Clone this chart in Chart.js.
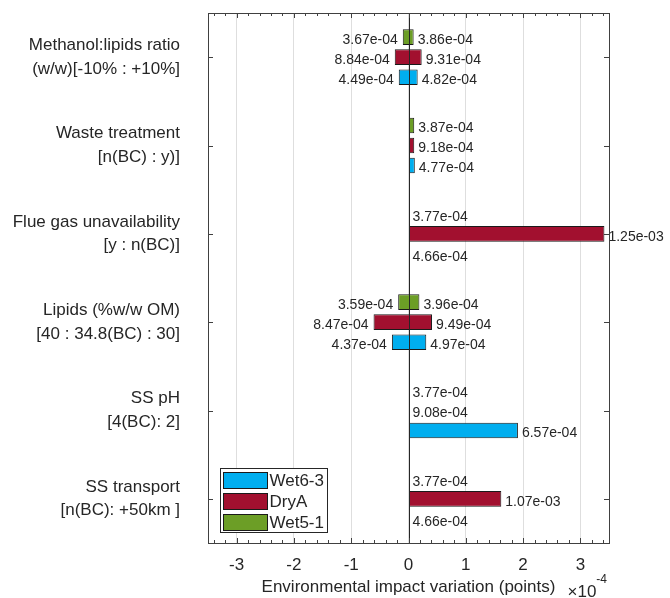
<!DOCTYPE html>
<html>
<head>
<meta charset="utf-8">
<script src="https://cdn.jsdelivr.net/npm/chart.js@4.4.1/dist/chart.umd.min.js"></script>
<style>
  html, body { margin: 0; padding: 0; background: #fff; }
</style>
</head>
<body>
<canvas id="tornado" width="670" height="598"></canvas>
<script>
// --- Data ---
const categories = [
    ['Methanol:lipids ratio', '(w/w)[-10% : +10%]'],
    ['Waste treatment', '[n(BC) : y)]'],
    ['Flue gas unavailability', '[y : n(BC)]'],
    ['Lipids (%w/w OM)', '[40 : 34.8(BC) : 30]'],
    ['SS pH', '[4(BC): 2]'],
    ['SS transport', '[n(BC): +50km ]']
];
const seriesNames = ['Wet5-1', 'DryA', 'Wet6-3'];
const baseline = [3.77e-4, 9.08e-4, 4.66e-4];   // reference impact per series

const wet51Low  = [3.67e-4, 3.77e-4, 3.77e-4, 3.59e-4, 3.77e-4, 3.77e-4];
const wet51High = [3.86e-4, 3.87e-4, 3.77e-4, 3.96e-4, 3.77e-4, 3.77e-4];
const dryALow   = [8.84e-4, 9.08e-4, 9.08e-4, 8.47e-4, 9.08e-4, 9.08e-4];
const dryAHigh  = [9.31e-4, 9.18e-4, 1.25e-3, 9.49e-4, 9.08e-4, 1.07e-3];
const wet63Low  = [4.49e-4, 4.66e-4, 4.66e-4, 4.37e-4, 4.66e-4, 4.66e-4];
const wet63High = [4.82e-4, 4.77e-4, 4.66e-4, 4.97e-4, 6.57e-4, 4.66e-4];

const xTicks = [-3, -2, -1, 0, 1, 2, 3];   // in x10^-4
const xMin = -3.5;
const xMax = 3.5;

// --- Styles ---
const FONT = '"Liberation Sans", Arial, Helvetica, sans-serif';
const TEXT = '#262626';
const AXIS = '#404040';
const seriesColors = ['#6c9e26', '#a2102f', '#00aeef'];

const lowSeries = [wet51Low, dryALow, wet63Low];
const highSeries = [wet51High, dryAHigh, wet63High];
const SCALE = 1e4; // axis shown in x10^-4

function fmt(v) {
    return v.toExponential(2).replace(/e([+-])(\d)$/, (m, s, d) => 'e' + s + '0' + d);
}
function same(a, b) { return Math.abs(a - b) < 1e-12; }

const datasets = seriesNames.map((name, i) => ({
    label: name,
    data: categories.map((_, j) => [
        (lowSeries[i][j] - baseline[i]) * SCALE,
        (highSeries[i][j] - baseline[i]) * SCALE
    ]),
    backgroundColor: seriesColors[i],
    borderColor: '#1a1a1a',
    borderWidth: ctx => (ctx.raw && same(ctx.raw[0], ctx.raw[1])) ? 0 : 1,
    borderSkipped: false,
    categoryPercentage: 0.68,
    barPercentage: 0.78
}));

function noPad(s) {
    s.paddingTop = 0; s.paddingBottom = 0;
    s.paddingLeft = 0; s.paddingRight = 0;
}

// --- Decorations: value labels, zero line, frame, ticks, legend ---
const decor = {
    id: 'decor',
    afterDatasetsDraw(chart) {
        const { ctx, chartArea: ca, scales: { x: xs } } = chart;
        const x0 = xs.getPixelForValue(0);
        ctx.save();
        ctx.strokeStyle = '#262626';
        ctx.lineWidth = 1;
        ctx.beginPath();
        ctx.moveTo(Math.round(x0) + 0.5, ca.top);
        ctx.lineTo(Math.round(x0) + 0.5, ca.bottom);
        ctx.stroke();

        ctx.font = '14px ' + FONT;
        ctx.fillStyle = TEXT;
        ctx.textBaseline = 'middle';
        seriesNames.forEach((_, i) => {
            const meta = chart.getDatasetMeta(i);
            categories.forEach((_, j) => {
                const lo = lowSeries[i][j], hi = highSeries[i][j], b = baseline[i];
                const y = meta.data[j].y + 3;
                if (same(lo, b) && same(hi, b)) {
                    ctx.textAlign = 'left';
                    ctx.fillText(fmt(b), x0 + 4, y);
                    return;
                }
                if (!same(lo, b)) {
                    ctx.textAlign = 'right';
                    ctx.fillText(fmt(lo), xs.getPixelForValue((lo - b) * SCALE) - 5, y);
                }
                if (!same(hi, b)) {
                    ctx.textAlign = 'left';
                    ctx.fillText(fmt(hi), xs.getPixelForValue((hi - b) * SCALE) + 4, y);
                }
            });
        });
        ctx.restore();
    },
    afterDraw(chart) {
        const { ctx, chartArea: ca, scales: { x: xs, y: ys } } = chart;
        ctx.save();
        ctx.strokeStyle = AXIS;
        ctx.lineWidth = 1;

        // x ticks (major + minor), inward on top and bottom
        ctx.beginPath();
        for (let k = -17; k <= 17; k++) {
            const v = k / 5;
            const px = Math.round(xs.getPixelForValue(v)) + 0.5;
            const len = (k % 5 === 0) ? 5 : 3;
            ctx.moveTo(px, ca.top); ctx.lineTo(px, ca.top + len);
            ctx.moveTo(px, ca.bottom); ctx.lineTo(px, ca.bottom - len);
        }
        // y ticks, inward on left and right
        ys.ticks.forEach((t, idx) => {
            const py = Math.round(ys.getPixelForTick(idx)) + 0.5;
            ctx.moveTo(ca.left, py); ctx.lineTo(ca.left + 5, py);
            ctx.moveTo(ca.right, py); ctx.lineTo(ca.right - 5, py);
        });
        ctx.stroke();

        // frame
        ctx.strokeRect(Math.round(ca.left) + 0.5, Math.round(ca.top) + 0.5,
            Math.round(ca.right - ca.left), Math.round(ca.bottom - ca.top));

        // legend (reverse order, bottom-left inside axes)
        ctx.font = '17px ' + FONT;
        const order = [2, 1, 0];
        const sw = 44, sh = 16, rowGap = 21;
        const textW = Math.max(...order.map(i => ctx.measureText(seriesNames[i]).width));
        const bx = Math.round(ca.left + 12) + 0.5, bh = 64;
        const by = Math.round(ca.bottom - 11 - bh) + 0.5;
        const bw = Math.round(4 + sw + 2 + textW + 3);
        ctx.fillStyle = '#fff';
        ctx.fillRect(bx, by, bw, bh);
        ctx.strokeStyle = '#262626';
        ctx.strokeRect(bx, by, bw, bh);
        order.forEach((i, r) => {
            const sy = by + 4 + r * rowGap;
            ctx.fillStyle = seriesColors[i];
            ctx.fillRect(bx + 3, sy, sw, sh);
            ctx.strokeStyle = '#1a1a1a';
            ctx.strokeRect(bx + 3, sy, sw, sh);
            ctx.fillStyle = TEXT;
            ctx.textAlign = 'left';
            ctx.textBaseline = 'middle';
            ctx.fillText(seriesNames[i], bx + 3 + sw + 2, sy + sh / 2 + 1);
        });

        // exponent label
        ctx.fillStyle = TEXT;
        ctx.textBaseline = 'alphabetic';
        ctx.textAlign = 'right';
        ctx.font = '12px ' + FONT;
        const supRight = ca.right - 2;
        ctx.fillText('-4', supRight, 583);
        const supW = ctx.measureText('-4').width;
        ctx.font = '17px ' + FONT;
        ctx.fillText('\u00d710', supRight - supW, 597);
        ctx.restore();
    }
};

new Chart(document.getElementById('tornado'), {
    type: 'bar',
    data: { labels: categories, datasets: datasets },
    options: {
        indexAxis: 'y',
        responsive: false,
        animation: false,
        devicePixelRatio: 1,
        layout: { padding: { top: 13, right: 61, left: 0, bottom: 0 } },
        plugins: {
            legend: { display: false },
            tooltip: { enabled: false }
        },
        scales: {
            x: {
                type: 'linear',
                min: xMin,
                max: xMax,
                afterBuildTicks: s => { s.ticks = xTicks.map(v => ({ value: v })); },
                ticks: {
                    color: TEXT,
                    padding: 12,
                    font: { family: FONT, size: 17 },
                    callback: v => String(v)
                },
                grid: { color: '#dedede', drawTicks: false },
                border: { display: false },
                title: {
                    display: true,
                    text: 'Environmental impact variation (points)',
                    color: TEXT,
                    font: { family: FONT, size: 17 },
                    padding: { top: 0, bottom: 0 }
                },
                afterFit: s => { s.height = 55; noPad(s); }
            },
            y: {
                grid: { display: false, drawTicks: false },
                border: { display: false },
                ticks: {
                    color: TEXT,
                    padding: 28,
                    font: { family: FONT, size: 17, lineHeight: 1.4 }
                },
                afterFit: s => { s.width = 208; noPad(s); }
            }
        }
    },
    plugins: [decor]
});
</script>
</body>
</html>
